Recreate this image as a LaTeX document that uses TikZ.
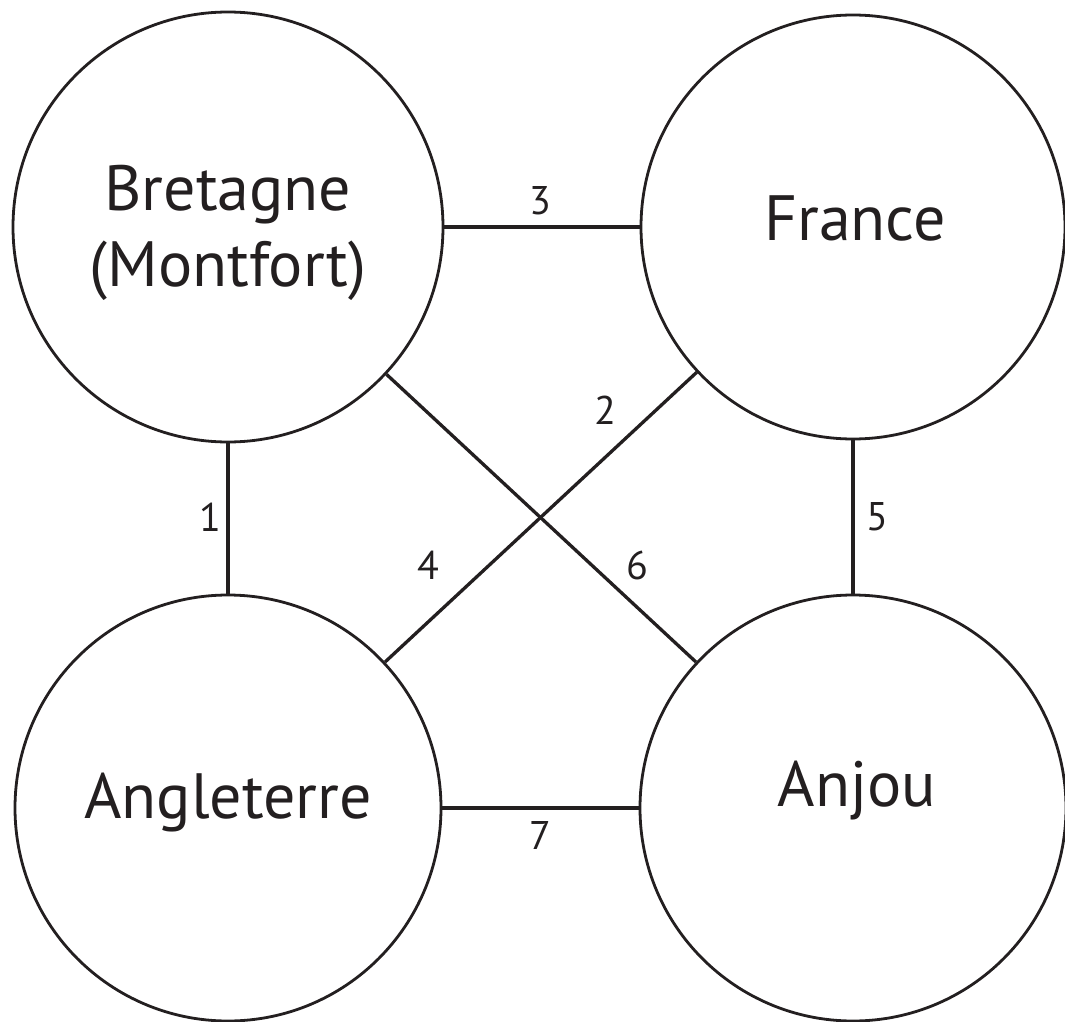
\documentclass[tikz,border=0pt]{standalone}
\usepackage{fontspec}
\setmainfont{PT Sans}
\definecolor{ink}{HTML}{231F20}
\begin{document}
\begin{tikzpicture}[x=1pt,y=-1pt,
  state/.style={circle,draw=ink,line width=2.8pt,inner sep=0pt},
  lbl/.style={text=ink,font=\fontsize{64}{76}\selectfont,align=center,inner sep=0pt},
  edge/.style={draw=ink,line width=4pt},
  diag/.style={draw=ink,line width=3.3pt},
  num/.style={text=ink,font=\fontsize{40}{48}\selectfont,inner sep=0pt}]
\useasboundingbox (0,0) rectangle (1065,1022);
\node[state,minimum size=430pt] (b) at (228,227) {};
\node[state,minimum size=424pt] (f) at (853,227) {};
\node[state,minimum size=426pt] (g) at (228,808) {};
\node[state,minimum size=426pt] (j) at (853,808) {};
\node[lbl] (bt) at (228,233) {Bretagne\\(Montfort)};
\node[lbl] (ft) at (855,218) {France};
\node[lbl] (gt) at (228,803) {Angleterre};
\node[lbl] (jt) at (857,791) {Anjou};
\draw[edge] (b.east) -- (f.west);
\draw[edge] (g.east) -- (j.west);
\draw[edge] (b.south) -- (g.north);
\draw[edge] (f.south) -- (j.north);
\draw[diag] (b) -- (j);
\draw[diag] (f) -- (g);
\node[num] (n3) at (540,201) {3};
\node[num] (n7) at (540,835) {7};
\node[num] (n1) at (210,517) {1};
\node[num] (n5) at (877,517) {5};
\node[num] (n2) at (605,410) {2};
\node[num] (n4) at (428,565) {4};
\node[num] (n6) at (637,565) {6};
\end{tikzpicture}
\end{document}
